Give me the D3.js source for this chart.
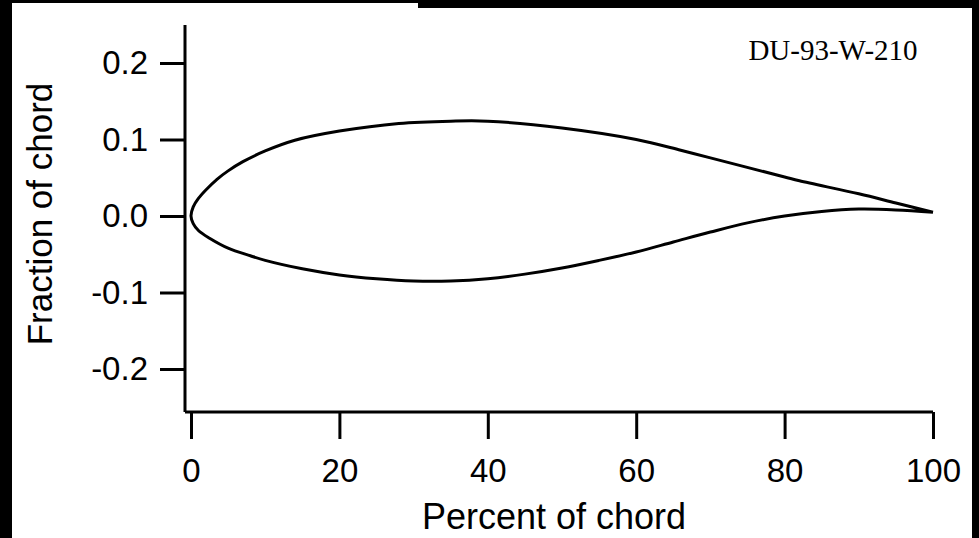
<!DOCTYPE html>
<html>
<head>
<meta charset="utf-8">
<script src="https://cdn.jsdelivr.net/npm/d3@7"></script>
<style>
html,body{margin:0;padding:0;background:#fff;}
svg{display:block;}
</style>
</head>
<body>
<svg id="chart" width="979" height="538"></svg>
<script>
// Airfoil DU-93-W-210 (x in percent of chord, y in fraction of chord)
const upperX = [100, 95, 90, 82, 80, 70, 66, 60, 50, 40, 35, 28, 20, 14, 10, 7, 5, 3.5, 2, 1, 0.3, 0];
const upperY = [0.005, 0.017, 0.029, 0.046, 0.051, 0.076, 0.086, 0.100, 0.115, 0.124, 0.124, 0.121, 0.111, 0.099, 0.085, 0.071, 0.059, 0.048, 0.034, 0.023, 0.012, 0];
const lowerX = [0, 0.3, 1, 2.5, 5, 8, 10, 15, 20, 25, 30, 35, 40, 45, 50, 55, 60, 65, 70, 75, 80, 85, 90, 95, 100];
const lowerY = [0, -0.010, -0.019, -0.029, -0.042, -0.052, -0.058, -0.069, -0.077, -0.082, -0.085, -0.085, -0.082, -0.076, -0.068, -0.058, -0.047, -0.034, -0.021, -0.009, 0.000, 0.006, 0.009, 0.008, 0.005];
const xTicks = [0, 20, 40, 60, 80, 100];
const yTicks = [0.2, 0.1, 0.0, -0.1, -0.2];
const yTickLabels = ["0.2", "0.1", "0.0", "-0.1", "-0.2"];
const title = "DU-93-W-210";
const xTitle = "Percent of chord";
const yTitle = "Fraction of chord";

const svg = d3.select("#chart");
svg.append("rect").attr("width", 979).attr("height", 538).attr("fill", "#fff");

const x = d3.scaleLinear().domain([0, 100]).range([191, 933]);
const y = d3.scaleLinear().domain([0, 0.1]).range([216, 139.5]);

const axisX0 = 185, axisY0 = 412;
const sans = "'Liberation Sans', Arial, Helvetica, sans-serif";

// Y axis
const gy = svg.append("g").attr("transform", `translate(${axisX0},0)`);
gy.call(d3.axisLeft(y).tickValues(yTicks).tickSize(25).tickPadding(12)
    .tickFormat((d, i) => yTickLabels[i]));
gy.select(".domain").attr("d", `M0,25V${axisY0}`);
gy.selectAll("line, path").attr("stroke", "#000").attr("stroke-width", 3);
gy.selectAll("text").attr("font-family", sans).attr("font-size", 33).attr("fill", "#000");

// X axis
const gx = svg.append("g").attr("transform", `translate(0,${axisY0})`);
gx.call(d3.axisBottom(x).tickValues(xTicks).tickSize(27).tickPadding(20).tickFormat(d3.format("d")));
gx.select(".domain").attr("d", `M${axisX0},0H${x(100)}`);
gx.selectAll("line, path").attr("stroke", "#000").attr("stroke-width", 3);
gx.selectAll("text").attr("font-family", sans).attr("font-size", 33).attr("fill", "#000");

// Airfoil
const pts = upperX.map((v, i) => [v, upperY[i]])
  .concat(lowerX.slice(1).map((v, i) => [v, lowerY[i + 1]]));
const line = d3.line().x(d => x(d[0])).y(d => y(d[1])).curve(d3.curveCatmullRom.alpha(0.5));
svg.append("path").attr("d", line(pts)).attr("fill", "none")
  .attr("stroke", "#000").attr("stroke-width", 3).attr("stroke-linejoin", "round");

// Titles
svg.append("text").attr("x", 554).attr("y", 529).attr("text-anchor", "middle")
  .attr("font-family", sans).attr("font-size", 36).attr("fill", "#000").text(xTitle);
svg.append("text").attr("transform", "translate(52,214) rotate(-90)").attr("text-anchor", "middle")
  .attr("font-family", sans).attr("font-size", 35).attr("fill", "#000").text(yTitle);
svg.append("text").attr("x", 833).attr("y", 60).attr("text-anchor", "middle")
  .attr("font-family", "'Liberation Serif', 'Times New Roman', serif").attr("font-size", 29)
  .attr("fill", "#000").text(title);

// Black frame of the scanned figure
svg.append("rect").attr("x", 0).attr("y", 0).attr("width", 12).attr("height", 538).attr("fill", "#000");
svg.append("rect").attr("x", 972).attr("y", 0).attr("width", 7).attr("height", 538).attr("fill", "#000");
svg.append("rect").attr("x", 0).attr("y", 0).attr("width", 418).attr("height", 3).attr("fill", "#000");
svg.append("rect").attr("x", 418).attr("y", 0).attr("width", 561).attr("height", 8).attr("fill", "#000");
</script>
</body>
</html>
